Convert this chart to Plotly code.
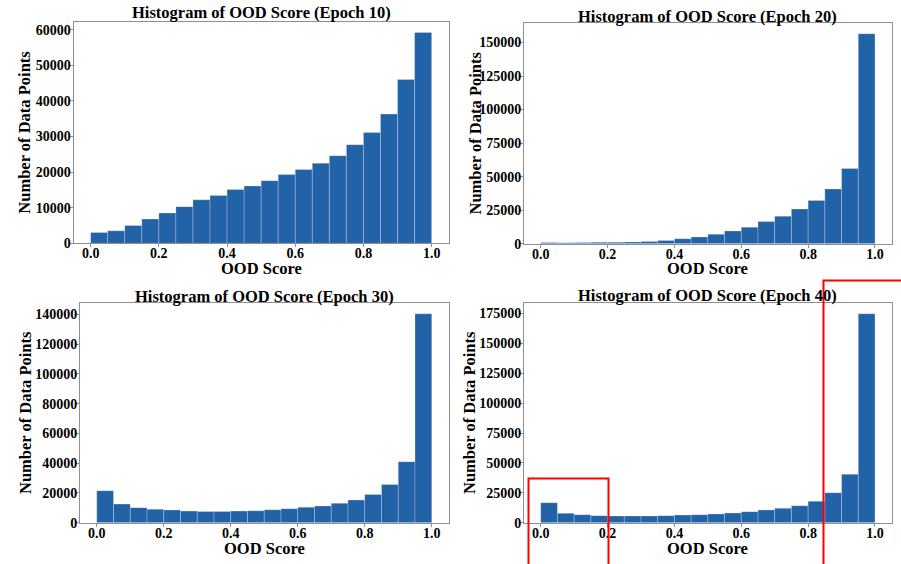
import plotly.graph_objects as go

W, H = 901, 564

bin_left = [0.00, 0.05, 0.10, 0.15, 0.20, 0.25, 0.30, 0.35, 0.40, 0.45,
            0.50, 0.55, 0.60, 0.65, 0.70, 0.75, 0.80, 0.85, 0.90, 0.95]
bin_width = 0.05

epoch10 = [3000, 3500, 5000, 6800, 8500, 10300, 12200, 13400, 15100, 16100,
           17600, 19300, 20700, 22500, 24600, 27700, 31100, 36300, 46000, 59200]
epoch20 = [900, 800, 900, 1000, 1100, 1300, 1700, 2400, 3700, 5000,
           7000, 9500, 12300, 16500, 20500, 25800, 32300, 40800, 56000, 156500]
epoch30 = [21500, 12500, 10100, 9000, 8500, 7800, 7600, 7600, 7800, 8000,
           8700, 9400, 10300, 11200, 13000, 15200, 19000, 25700, 41000, 140400]
epoch40 = [16700, 7800, 6700, 5900, 5600, 5600, 5600, 5900, 6400, 6700,
           7300, 8100, 9200, 10600, 12000, 14200, 17900, 25100, 40500, 174700]

titles = ["Histogram of OOD Score (Epoch 10)", "Histogram of OOD Score (Epoch 20)",
          "Histogram of OOD Score (Epoch 30)", "Histogram of OOD Score (Epoch 40)"]
x_tick_vals = [0.0, 0.2, 0.4, 0.6, 0.8, 1.0]
x_tick_text = ["0.0", "0.2", "0.4", "0.6", "0.8", "1.0"]
y_ticks = [
    [0, 10000, 20000, 30000, 40000, 50000, 60000],
    [0, 25000, 50000, 75000, 100000, 125000, 150000],
    [0, 20000, 40000, 60000, 80000, 100000, 120000, 140000],
    [0, 25000, 50000, 75000, 100000, 125000, 150000, 175000],
]
series = [epoch10, epoch20, epoch30, epoch40]

# panel boxes in reference pixels: (left, right, top, bottom)
boxes = [(73.6, 448.7, 22.0, 243.3),
         (524.0, 891.7, 23.3, 243.7),
         (80.0, 448.5, 303.3, 522.7),
         (524.0, 891.7, 303.3, 522.7)]
title_y = [12.5, 16, 296, 295.5]
xlabel_y = [268.5, 268.5, 548.5, 548]
ylabel_x = [25, 475, 25, 469]


def px(x):
    return x / W


def py(y):
    return 1 - y / H


FONT = "Liberation Serif, Times New Roman, serif"
BAR = "#2262a6"
FRAME = "#8f8f8f"

fig = go.Figure()
annotations = []
layout_axes = {}

for i, vals in enumerate(series):
    n = "" if i == 0 else str(i + 1)
    l, r, t, b = boxes[i]
    fig.add_trace(go.Bar(
        x=bin_left, y=vals, width=bin_width, offset=0,
        marker=dict(color=BAR, line=dict(color="rgba(255,255,255,0.35)", width=0.7)),
        xaxis="x" + n, yaxis="y" + n, showlegend=False,
    ))
    layout_axes["xaxis" + n] = dict(
        domain=[px(l), px(r)], range=[-0.05, 1.05], anchor="y" + n,
        tickvals=x_tick_vals, ticktext=x_tick_text,
        showline=True, mirror=True, linecolor=FRAME, linewidth=1,
        ticks="outside", ticklen=3, tickcolor=FRAME, showgrid=False, zeroline=False,
        ticklabelstandoff=-6,
        tickfont=dict(family=FONT, size=14, color="black", weight="bold"),
        automargin=False, fixedrange=True,
    )
    layout_axes["yaxis" + n] = dict(
        domain=[py(b), py(t)], range=[0, max(vals) * 1.05], anchor="x" + n,
        tickvals=y_ticks[i], ticktext=[str(v) for v in y_ticks[i]],
        showline=True, mirror=True, linecolor=FRAME, linewidth=1,
        ticks="outside", ticklen=3, tickcolor=FRAME, showgrid=False, zeroline=False,
        ticklabelstandoff=-4,
        tickfont=dict(family=FONT, size=14, color="black", weight="bold"),
        automargin=False, fixedrange=True,
    )
    cx = (l + r) / 2
    annotations.append(dict(
        text=titles[i], x=px(cx), y=py(title_y[i]), xref="paper", yref="paper",
        xanchor="center", yanchor="middle", showarrow=False,
        font=dict(family=FONT, size=16.5, color="black", weight="bold")))
    annotations.append(dict(
        text="OOD Score", x=px(cx), y=py(xlabel_y[i]), xref="paper", yref="paper",
        xanchor="center", yanchor="middle", showarrow=False,
        font=dict(family=FONT, size=16.5, color="black", weight="bold")))
    annotations.append(dict(
        text="Number of Data Points", x=px(ylabel_x[i]), y=py((t + b) / 2),
        xref="paper", yref="paper", xanchor="center", yanchor="middle",
        textangle=-90, showarrow=False,
        font=dict(family=FONT, size=16.5, color="black", weight="bold")))

# red highlight rectangles (reference pixel boxes)
rects = [(528.5, 608.5, 478.5, 570), (823.5, 905, 280.5, 570)]
shapes = []
for x0, x1, y0, y1 in rects:
    shapes.append(dict(type="rect", xref="paper", yref="paper",
                       x0=px(x0), x1=px(x1), y0=py(y1), y1=py(y0),
                       line=dict(color="#ff0000", width=2), fillcolor="rgba(0,0,0,0)"))

fig.update_layout(
    width=W, height=H, autosize=False,
    margin=dict(l=0, r=0, t=0, b=0, pad=0),
    paper_bgcolor="white", plot_bgcolor="white",
    bargap=0, annotations=annotations, shapes=shapes,
    font=dict(family=FONT),
    **layout_axes,
)

fig.write_html(
    "out.html",
    config={"displayModeBar": False, "staticPlot": True},
    post_script="document.body.style.margin='0';document.body.style.padding='0';"
                "document.body.style.overflow='hidden';",
)
